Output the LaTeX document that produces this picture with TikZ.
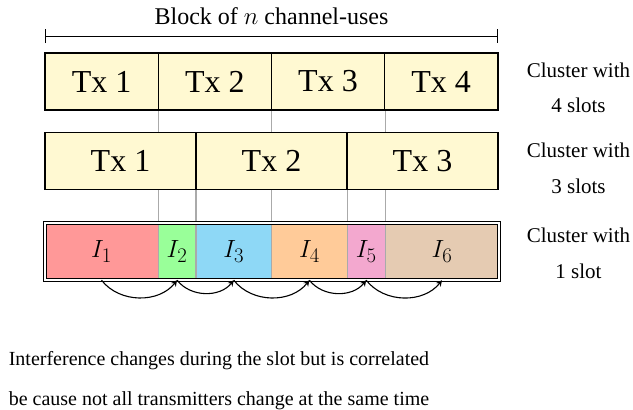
\documentclass[tikz,border=0pt]{standalone}
\usepackage{fontspec}
\setmainfont{Liberation Serif}
\usetikzlibrary{arrows.meta}
\definecolor{txfill}{HTML}{FFF9D2}
\definecolor{cA}{HTML}{FF9898}
\definecolor{cB}{HTML}{99FF99}
\definecolor{cC}{HTML}{8ED8F6}
\definecolor{cD}{HTML}{FFCB99}
\definecolor{cE}{HTML}{F3A8CF}
\definecolor{cF}{HTML}{E5CBB2}
\definecolor{sep}{HTML}{AAAAAA}
\tikzset{
  txcell/.style={draw=black, line width=1.4pt, fill=txfill, minimum height=57pt,
    inner sep=0pt, font=\fontsize{32}{32}\selectfont},
  icell/.style={minimum height=57pt, inner sep=0pt, font=\fontsize{28}{28}\selectfont},
  seprule/.style={draw=sep, line width=1.2pt},
  lbl/.style={anchor=base, inner sep=0pt, font=\fontsize{21}{21}\selectfont},
  bottomtxt/.style={anchor=base, inner sep=0pt, font=\fontsize{20}{20}\selectfont},
  corr/.style={line width=1.1pt, -{Stealth[length=6pt,width=6pt]}}
}
\begin{document}
\begin{tikzpicture}[x=1pt,y=-1pt]
\useasboundingbox (0,0) rectangle (633,410);

% dimension line
\coordinate (dl) at (45,36);
\coordinate (dr) at (498,36);
\draw[line width=0.9pt, {Bar[width=14pt]}-{Bar[width=14pt]}] (dl) -- (dr);
\node[anchor=base, inner sep=0pt, font=\fontsize{24}{24}\selectfont] (blk) at (271.5,24) {Block of $n$ channel-uses};

% row 3 coloured cells
\node[icell, fill=cA, minimum width=113.4pt] (i1) at (101.5,251.5) {$I_1$};
\node[icell, fill=cB, minimum width=37.8pt]  (i2) at (177.1,251.5) {$I_2$};
\node[icell, fill=cC, minimum width=75.5pt]  (i3) at (233.75,251.5) {$I_3$};
\node[icell, fill=cD, minimum width=75.8pt]  (i4) at (309.4,251.5) {$I_4$};
\node[icell, fill=cE, minimum width=37.8pt]  (i5) at (366.2,251.5) {$I_5$};
\node[icell, fill=cF, minimum width=113.6pt] (i6) at (442.0,251.5) {$I_6$};

% grey separator lines
\foreach \x/\y [count=\k] in {158.2/110,196/189,271.5/110,347.3/189,385.1/110}{
  \coordinate (st\k) at (\x,\y);
  \coordinate (en\k) at (\x,278);
  \draw[seprule] (st\k) -- (en\k);
}

% row 1
\node[txcell, minimum width=113.2pt] (a1) at (101.6,81.5) {Tx 1};
\node[txcell, minimum width=113.2pt] (a2) at (214.8,81.5) {Tx 2};
\node[txcell, minimum width=113.2pt] (a3) at (328.0,81.5) {Tx 3};
\node[txcell, minimum width=113.2pt] (a4) at (441.2,81.5) {Tx 4};

% row 2
\node[txcell, minimum width=151pt] (b1) at (120.5,161) {Tx 1};
\node[txcell, minimum width=151pt] (b2) at (271.5,161) {Tx 2};
\node[txcell, minimum width=151pt] (b3) at (422.5,161) {Tx 3};

% double frame of row 3
\node[draw=black, double, double distance=2.4pt, line width=0.9pt,
      minimum width=454pt, minimum height=57pt, inner sep=0pt] (frame) at (271.8,251.5) {};

% correlation arcs
\draw[corr] (i1.south) to[bend right=52] (i2.south);
\draw[corr] (i2.south) to[bend right=52] (i3.south);
\draw[corr] (i3.south) to[bend right=52] (i4.south);
\draw[corr] (i4.south) to[bend right=52] (i5.south);
\draw[corr] (i5.south) to[bend right=52] (i6.south);

% cluster labels
\node[lbl] (l1a) at (578.5,77) {Cluster with};
\node[lbl] (l1b) at (578.5,112) {4 slots};
\node[lbl] (l2a) at (578.5,157.5) {Cluster with};
\node[lbl] (l2b) at (578.5,193) {3 slots};
\node[lbl] (l3a) at (578.5,242) {Cluster with};
\node[lbl] (l3b) at (578.5,278) {1 slot};

% bottom text
\node[bottomtxt] (t1) at (219,365) {Interference changes during the slot but is correlated};
\node[bottomtxt] (t2) at (219,405) {be cause not all transmitters change at the same time};
\end{tikzpicture}
\end{document}
